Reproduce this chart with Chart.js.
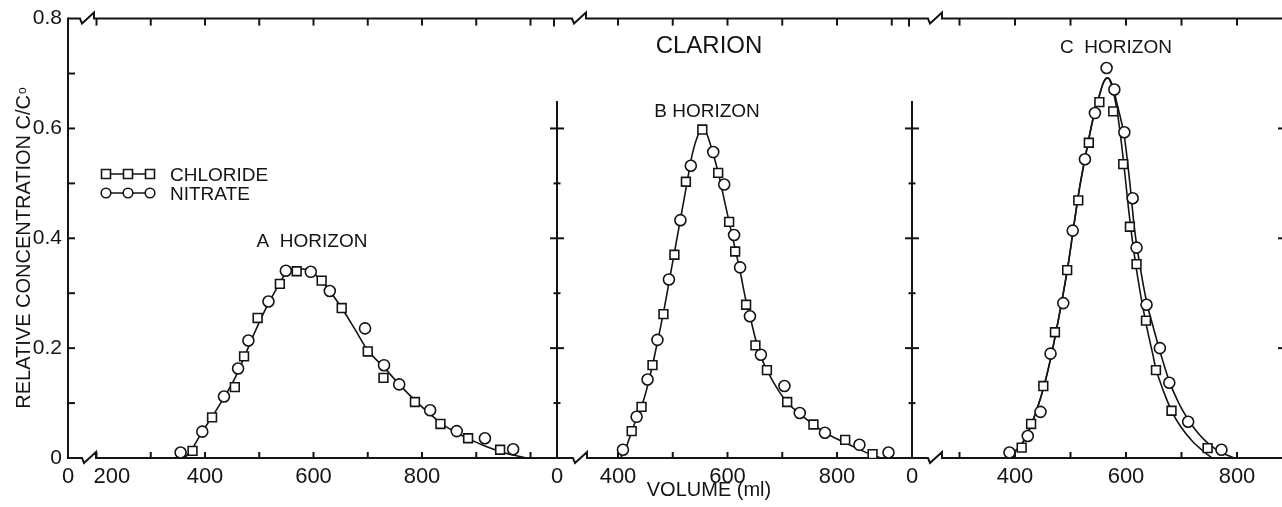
<!DOCTYPE html>
<html>
<head>
<meta charset="utf-8">
<title>Clarion - chloride and nitrate breakthrough</title>
<script src="https://cdn.jsdelivr.net/npm/chart.js@4.4.1/dist/chart.umd.min.js"></script>
<style>
  html, body { margin: 0; padding: 0; background: #fff; }
  #wrap { width: 1282px; height: 507px; }
</style>
</head>
<body>
<div id="wrap"><canvas id="chart" width="1282" height="507"></canvas></div>
<script>
// measured effluent points, [volume ml, C/Co]
const chlorideA = [[377, 0.013], [413, 0.074], [455, 0.129], [472, 0.185], [497, 0.255], [538, 0.317],
  [569, 0.340], [615, 0.323], [652, 0.273], [700, 0.194], [729, 0.146], [787, 0.102], [834, 0.062],
  [885, 0.036], [944, 0.015]];
const nitrateA = [[355, 0.010], [395, 0.048], [435, 0.112], [461, 0.163], [480, 0.214], [517, 0.285],
  [549, 0.341], [595, 0.339], [630, 0.304], [695, 0.236], [730, 0.169], [758, 0.134], [815, 0.087],
  [864, 0.049], [916, 0.036], [968, 0.016]];

const chlorideB = [[425, 0.049], [443, 0.093], [463, 0.169], [483, 0.262], [503, 0.370], [524, 0.503],
  [554, 0.598], [583, 0.519], [603, 0.430], [614, 0.376], [634, 0.279], [651, 0.205], [672, 0.160],
  [709, 0.102], [757, 0.061], [815, 0.033], [865, 0.007]];
const nitrateB = [[409, 0.015], [434, 0.075], [454, 0.143], [472, 0.215], [493, 0.325], [514, 0.433],
  [533, 0.532], [574, 0.557], [594, 0.498], [612, 0.406], [623, 0.347], [641, 0.258], [661, 0.188],
  [704, 0.131], [732, 0.082], [778, 0.046], [841, 0.024], [894, 0.010]];

const chlorideC = [[412, 0.019], [429, 0.062], [451, 0.131], [472, 0.229], [494, 0.342], [514, 0.469],
  [533, 0.574], [552, 0.648], [577, 0.631], [595, 0.535], [607, 0.421], [619, 0.353], [636, 0.250],
  [654, 0.160], [682, 0.086], [747, 0.018]];
const nitrateC = [[390, 0.010], [423, 0.040], [446, 0.084], [464, 0.190], [487, 0.282], [504, 0.414],
  [526, 0.544], [544, 0.628], [565, 0.710], [579, 0.671], [597, 0.593], [612, 0.473], [619, 0.383],
  [637, 0.279], [661, 0.200], [678, 0.137], [712, 0.066], [772, 0.015]];

// hand-fitted curves through the points
const curveA = [[363, 0], [377, 0.018], [395, 0.048], [413, 0.075], [435, 0.110], [455, 0.145],
  [472, 0.183], [490, 0.225], [510, 0.268], [530, 0.305], [549, 0.336], [570, 0.345], [595, 0.340],
  [615, 0.322], [630, 0.304], [652, 0.273], [676, 0.235], [700, 0.196], [730, 0.165], [758, 0.134],
  [787, 0.105], [815, 0.080], [840, 0.060], [864, 0.046], [890, 0.033], [916, 0.022], [944, 0.012],
  [970, 0.005], [992, 0]];
const curveB = [[405, 0], [415, 0.020], [425, 0.048], [435, 0.075], [445, 0.100], [455, 0.135],
  [465, 0.178], [475, 0.225], [485, 0.275], [495, 0.330], [505, 0.385], [515, 0.440], [525, 0.495],
  [535, 0.550], [545, 0.585], [553, 0.598], [562, 0.590], [572, 0.560], [583, 0.520], [593, 0.475],
  [603, 0.430], [613, 0.385], [623, 0.340], [633, 0.290], [643, 0.250], [653, 0.210], [665, 0.175],
  [680, 0.145], [695, 0.120], [710, 0.100], [730, 0.082], [755, 0.062], [780, 0.045], [810, 0.030],
  [840, 0.016], [865, 0.005], [880, 0]];
const curveCRise = [[383, 0], [395, 0.008], [412, 0.025], [425, 0.050], [440, 0.090], [452, 0.130],
  [464, 0.180], [475, 0.235], [487, 0.300], [497, 0.360], [507, 0.430], [516, 0.490], [527, 0.550],
  [540, 0.615], [552, 0.660], [560, 0.685], [567, 0.692]];
const curveCChloride = [[575, 0.675], [585, 0.625], [595, 0.545], [605, 0.450], [615, 0.370],
  [625, 0.305], [636, 0.245], [648, 0.190], [654, 0.162], [660, 0.143], [672, 0.110], [685, 0.080],
  [700, 0.055], [720, 0.030], [740, 0.012], [755, 0]];
const curveCNitrate = [[575, 0.680], [585, 0.640], [597, 0.585], [607, 0.500], [615, 0.420],
  [622, 0.370], [637, 0.285], [650, 0.235], [661, 0.195], [678, 0.140], [695, 0.100], [712, 0.070],
  [730, 0.045], [750, 0.025], [772, 0.010], [795, 0]];

// x tick values per panel and which of them carry a number
const ticksA = [200, 300, 400, 500, 600, 700, 800, 900, 1000];
const ticksB = [400, 500, 600, 700, 800, 900];
const ticksC = [300, 400, 500, 600, 700, 800];
const labelledA = [200, 400, 600, 800];
const labelledB = [400, 600, 800];
const labelledC = [400, 600, 800];
const yTicks = [0, 0.2, 0.4, 0.6, 0.8];

// the three panels share one linear x scale (0..1214); each panel maps ml onto it
const panels = [
  { a: -80, b: 0.5425, axisU: 0,   ticks: ticksA, labelled: labelledA },
  { a: 331, b: 0.5475, axisU: 489, ticks: ticksB, labelled: labelledB },
  { a: 725, b: 0.555,  axisU: 844, ticks: ticksC, labelled: labelledC }
];
const toPoints = (p, arr) => arr.map(([ml, c]) => ({ x: p.a + p.b * ml, y: c }));

const xTicks = [];
panels.forEach((p) => {
  xTicks.push({ u: p.axisU, label: '0', edge: true });
  p.ticks.forEach((ml) => {
    let label = p.labelled.includes(ml) ? String(ml) : '';
    if (p === panels[0] && ml === 200) label = '     200'; // sits clear of the axis break
    xTicks.push({ u: p.a + p.b * ml, label: label, edge: false });
  });
});

const ink = '#141414';
const FONT = '"Liberation Sans", Arial, sans-serif';

const curveSet = (data) => ({
  data: data, showLine: true, pointRadius: 0, borderColor: ink, borderWidth: 1.6,
  cubicInterpolationMode: 'monotone', fill: false, order: 2
});
const markerSet = (data, style, r) => ({
  data: data, showLine: false, pointStyle: style, pointRadius: r, pointBorderWidth: 1.6,
  pointBorderColor: ink, pointBackgroundColor: '#fff', order: 1
});

const A = panels[0], B = panels[1], C = panels[2];
const datasets = [
  curveSet(toPoints(A, curveA)),
  curveSet(toPoints(B, curveB)),
  curveSet(toPoints(C, curveCRise.concat(curveCChloride))),
  curveSet(toPoints(C, curveCRise.concat(curveCNitrate))),
  markerSet(toPoints(A, chlorideA), 'rect', 6.2),
  markerSet(toPoints(B, chlorideB), 'rect', 6.2),
  markerSet(toPoints(C, chlorideC), 'rect', 6.2),
  markerSet(toPoints(A, nitrateA), 'circle', 5.5),
  markerSet(toPoints(B, nitrateB), 'circle', 5.5),
  markerSet(toPoints(C, nitrateC), 'circle', 5.5)
];

// axes frame: broken top/bottom lines, inward ticks, inner panel axes
const framePlugin = {
  id: 'frame',
  beforeDatasetsDraw(chart) {
    const { ctx, chartArea, scales } = chart;
    const { left, right, top, bottom } = chartArea;
    const x = scales.x, y = scales.y;
    const pxB = x.getPixelForValue(B.axisU), pxC = x.getPixelForValue(C.axisU);
    const seg = (x1, y1, x2, y2) => { ctx.beginPath(); ctx.moveTo(x1, y1); ctx.lineTo(x2, y2); ctx.stroke(); };
    const broken = (y0, breaks) => {
      ctx.beginPath();
      ctx.moveTo(left, y0);
      breaks.forEach((bx) => {
        ctx.lineTo(bx, y0);
        ctx.lineTo(bx + 2, y0 + 5);
        ctx.lineTo(bx + 14, y0 - 6);
        ctx.lineTo(bx + 14, y0);
      });
      ctx.lineTo(right, y0);
      ctx.stroke();
    };

    ctx.save();
    ctx.strokeStyle = ink;
    ctx.lineWidth = 2;
    ctx.lineJoin = 'miter';

    seg(left, top - 1, left, bottom + 1);
    broken(top, [left + 12, pxB + 15, pxC + 16]);
    broken(bottom, [left + 14, pxB + 16, pxC + 16]);

    // x ticks, pointing into the plot
    xTicks.forEach((t) => {
      const px = x.getPixelForValue(t.u);
      if (t.edge) {
        if (t.u > 0) seg(px - 3, top, px - 3, top + 8);
        return;
      }
      seg(px, bottom, px, bottom - 6);
      seg(px, top, px, top + 7);
    });

    // y ticks on the outer axis and crosses on the inner panel axes
    [pxB, pxC].forEach((px) => seg(px, bottom, px, y.getPixelForValue(0.65)));
    for (let i = 1; i <= 7; i++) {
      const py = y.getPixelForValue(i / 10);
      seg(left, py, left + 7, py);
      if (i <= 6) {
        const half = i % 2 === 0 ? 7 : 3.5;
        [pxB, pxC].forEach((px) => seg(px - half, py, px + half, py));
      }
    }
    [0.2, 0.4, 0.6].forEach((v) => {
      const py = y.getPixelForValue(v);
      seg(right - 4, py, right, py);
    });
    ctx.restore();
  }
};

// titles, panel names and the legend
const textPlugin = {
  id: 'texts',
  afterDraw(chart) {
    const ctx = chart.ctx;
    ctx.save();
    ctx.fillStyle = ink;
    ctx.textBaseline = 'alphabetic';
    ctx.textAlign = 'center';

    ctx.font = '24px ' + FONT;
    ctx.fillText('CLARION', 709, 53);
    ctx.font = '19px ' + FONT;
    ctx.fillText('B HORIZON', 707, 117);
    ctx.fillText('A  HORIZON', 312, 247);
    ctx.fillText('C  HORIZON', 1116, 53);
    ctx.font = '20px ' + FONT;
    ctx.fillText('VOLUME (ml)', 709, 496);

    // y axis title, reading upwards, with the small o of Co
    ctx.save();
    ctx.translate(30, 248);
    ctx.rotate(-Math.PI / 2);
    ctx.textAlign = 'left';
    ctx.font = '20px ' + FONT;
    const main = 'RELATIVE CONCENTRATION C/C';
    const wMain = ctx.measureText(main).width;
    ctx.font = '12px ' + FONT;
    const wO = ctx.measureText('o').width;
    const x0 = -(wMain + wO + 1) / 2;
    ctx.font = '20px ' + FONT;
    ctx.fillText(main, x0, 0);
    ctx.font = '12px ' + FONT;
    ctx.fillText('o', x0 + wMain + 1, -4);
    ctx.restore();

    // legend
    ctx.strokeStyle = ink;
    ctx.lineWidth = 1.6;
    const lx = [106, 128, 150];
    const rows = [{ y: 174, text: 'CHLORIDE', shape: 'rect' }, { y: 193, text: 'NITRATE', shape: 'circle' }];
    rows.forEach((row) => {
      ctx.beginPath();
      ctx.moveTo(lx[0], row.y);
      ctx.lineTo(lx[2], row.y);
      ctx.stroke();
      lx.forEach((cx) => {
        ctx.beginPath();
        if (row.shape === 'rect') ctx.rect(cx - 4.5, row.y - 4.5, 9, 9);
        else ctx.arc(cx, row.y, 4.8, 0, Math.PI * 2);
        ctx.fillStyle = '#fff';
        ctx.fill();
        ctx.stroke();
      });
      ctx.fillStyle = ink;
      ctx.textAlign = 'left';
      ctx.font = '19px ' + FONT;
      ctx.fillText(row.text, 170, row.y + 7);
    });
    ctx.restore();
  }
};

window.onload = () => {
  new Chart(document.getElementById('chart'), {
    type: 'scatter',
    data: { datasets: datasets },
    options: {
      responsive: false,
      animation: false,
      events: [],
      layout: { autoPadding: false, padding: { top: 18, right: 0, left: 0, bottom: 0 } },
      plugins: { legend: { display: false }, tooltip: { enabled: false } },
      scales: {
        x: {
          type: 'linear',
          min: 0,
          max: 1214,
          grid: { display: false, drawTicks: false },
          border: { display: false },
          afterBuildTicks: (scale) => { scale.ticks = xTicks.map((t) => ({ value: t.u })); },
          afterFit: (scale) => { scale.height = 49; },
          ticks: {
            autoSkip: false,
            maxRotation: 0,
            padding: 6,
            color: ink,
            font: { family: FONT, size: 22 },
            callback: (value, index) => xTicks[index].label
          }
        },
        y: {
          min: 0,
          max: 0.8,
          grid: { display: false, drawTicks: false },
          border: { display: false },
          afterBuildTicks: (scale) => { scale.ticks = yTicks.map((v) => ({ value: v })); },
          afterFit: (scale) => { scale.width = 68; },
          ticks: {
            padding: 6,
            color: ink,
            font: { family: FONT, size: 21 },
            callback: (value) => (value === 0 ? '0' : value.toFixed(1))
          }
        }
      }
    },
    plugins: [framePlugin, textPlugin]
  });
};
</script>
</body>
</html>
